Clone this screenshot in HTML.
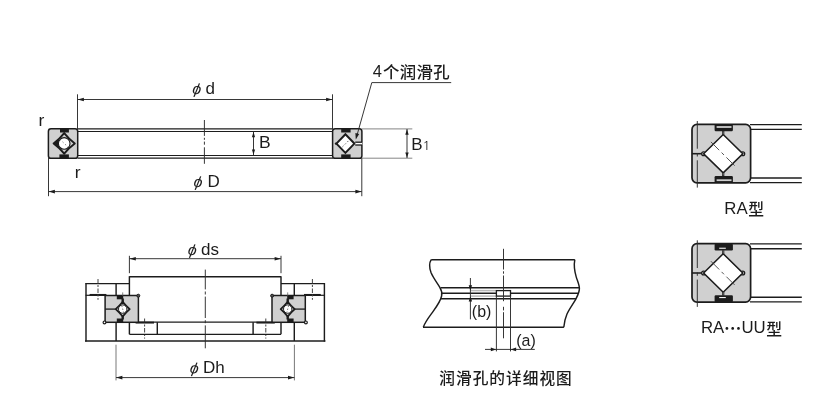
<!DOCTYPE html>
<html lang="zh-CN">
<head>
<meta charset="utf-8">
<title>RA型</title>
<style>
html,body{margin:0;padding:0;background:#fff;}
body{width:836px;height:411px;overflow:hidden;}
svg{display:block;will-change:transform;}
text{font-family:"Liberation Sans","Noto Sans CJK SC",sans-serif;fill:#1c1c1c;}
.cj{font-family:"Noto Sans CJK SC","Liberation Sans",sans-serif;}
.ip{font-family:"NanumGothic","IPAGothic","Liberation Sans",sans-serif;}
</style>
</head>
<body>
<svg width="836" height="411" viewBox="0 0 836 411">
<rect x="0" y="0" width="836" height="411" fill="#ffffff"/>
<line x1="77.50" y1="128.90" x2="333.00" y2="128.90" stroke="#1d1d1d" stroke-width="1.4" />
<line x1="77.50" y1="131.50" x2="333.00" y2="131.50" stroke="#1d1d1d" stroke-width="1.05" />
<line x1="77.50" y1="155.40" x2="333.00" y2="155.40" stroke="#1d1d1d" stroke-width="1.05" />
<line x1="77.50" y1="158.10" x2="333.00" y2="158.10" stroke="#1d1d1d" stroke-width="1.4" />
<rect x="48.40" y="128.80" width="29.30" height="29.50" rx="2.6" fill="#d0d0d0" stroke="#1c1c1c" stroke-width="1.5"/>
<rect x="332.60" y="128.80" width="29.30" height="29.50" rx="2.6" fill="#d0d0d0" stroke="#1c1c1c" stroke-width="1.5"/>
<path d="M53.60,143.40 Q59.70,138.90 64.20,133.10 Q68.70,138.90 74.80,143.40 Q68.70,147.90 64.20,153.70 Q59.70,147.90 53.60,143.40 Z" fill="#d0d0d0" stroke="#1c1c1c" stroke-width="1.9" stroke-linejoin="round"/>
<polygon points="53.60,143.40 59.60,138.80 59.60,148.00" fill="#1c1c1c" stroke="none" stroke-width="1.0" />
<circle cx="64.20" cy="143.40" r="5.8" fill="#fff" stroke="#1c1c1c" stroke-width="1.1"/>
<line x1="60.00" y1="139.40" x2="68.40" y2="147.40" stroke="#333" stroke-width="0.7" stroke-dasharray="1.2 2.4"/>
<rect x="60.00" y="128.80" width="8.90" height="3.70" rx="0" fill="#1c1c1c" stroke="none" stroke-width="1.0"/>
<rect x="59.40" y="154.40" width="9.50" height="3.90" rx="0" fill="#1c1c1c" stroke="none" stroke-width="1.0"/>
<polygon points="336.40,143.60 345.40,134.30 354.40,143.60 345.40,152.90" fill="#fff" stroke="#1c1c1c" stroke-width="2.0" stroke-linejoin="miter"/>
<circle cx="336.00" cy="143.60" r="1.2" fill="#1c1c1c" stroke="none" stroke-width="1.0"/>
<line x1="342.40" y1="146.90" x2="349.60" y2="139.70" stroke="#444" stroke-width="0.8" stroke-dasharray="1.6 1.8"/>
<rect x="341.20" y="128.80" width="9.40" height="3.70" rx="0" fill="#1c1c1c" stroke="none" stroke-width="1.0"/>
<rect x="341.20" y="154.40" width="9.40" height="3.90" rx="0" fill="#1c1c1c" stroke="none" stroke-width="1.0"/>
<rect x="355.60" y="142.20" width="6.60" height="2.80" rx="0" fill="#fff" stroke="none" stroke-width="1.0"/>
<line x1="355.20" y1="142.20" x2="362.00" y2="142.20" stroke="#1c1c1c" stroke-width="1.32" />
<line x1="355.20" y1="145.00" x2="362.00" y2="145.00" stroke="#1c1c1c" stroke-width="1.32" />
<line x1="204.40" y1="120.00" x2="204.40" y2="135.90" stroke="#2c2c2c" stroke-width="0.95" />
<line x1="204.40" y1="137.80" x2="204.40" y2="139.80" stroke="#2c2c2c" stroke-width="0.95" />
<line x1="204.40" y1="141.60" x2="204.40" y2="144.70" stroke="#2c2c2c" stroke-width="0.95" />
<line x1="204.40" y1="147.30" x2="204.40" y2="163.80" stroke="#2c2c2c" stroke-width="0.95" />
<line x1="77.50" y1="94.30" x2="77.50" y2="129.00" stroke="#2c2c2c" stroke-width="0.95" />
<line x1="332.50" y1="94.30" x2="332.50" y2="129.00" stroke="#2c2c2c" stroke-width="0.95" />
<line x1="48.50" y1="158.00" x2="48.50" y2="196.20" stroke="#2c2c2c" stroke-width="0.95" />
<line x1="361.80" y1="158.00" x2="361.80" y2="196.20" stroke="#2c2c2c" stroke-width="0.95" />
<line x1="77.50" y1="99.50" x2="332.50" y2="99.50" stroke="#2c2c2c" stroke-width="0.95" />
<polygon points="77.70,99.50 83.90,97.70 83.90,101.30" fill="#1c1c1c" stroke="none" stroke-width="0" />
<polygon points="332.30,99.50 326.10,97.70 326.10,101.30" fill="#1c1c1c" stroke="none" stroke-width="0" />
<line x1="48.50" y1="191.60" x2="361.80" y2="191.60" stroke="#2c2c2c" stroke-width="0.95" />
<polygon points="48.70,191.60 54.90,189.80 54.90,193.40" fill="#1c1c1c" stroke="none" stroke-width="0" />
<polygon points="361.60,191.60 355.40,189.80 355.40,193.40" fill="#1c1c1c" stroke="none" stroke-width="0" />
<line x1="253.50" y1="131.50" x2="253.50" y2="155.30" stroke="#2c2c2c" stroke-width="0.95" />
<polygon points="253.50,132.00 251.90,137.20 255.10,137.20" fill="#1c1c1c" stroke="none" stroke-width="0" />
<polygon points="253.50,154.80 251.90,149.60 255.10,149.60" fill="#1c1c1c" stroke="none" stroke-width="0" />
<line x1="362.00" y1="128.90" x2="412.30" y2="128.90" stroke="#666" stroke-width="0.8" />
<line x1="362.00" y1="158.20" x2="412.30" y2="158.20" stroke="#666" stroke-width="0.8" />
<line x1="407.00" y1="129.00" x2="407.00" y2="158.00" stroke="#2c2c2c" stroke-width="0.95" />
<polygon points="407.00,129.30 405.30,134.70 408.70,134.70" fill="#1c1c1c" stroke="none" stroke-width="0" />
<polygon points="407.00,157.80 405.30,152.40 408.70,152.40" fill="#1c1c1c" stroke="none" stroke-width="0" />
<line x1="371.80" y1="82.60" x2="451.20" y2="82.60" stroke="#2c2c2c" stroke-width="0.95" />
<line x1="371.80" y1="82.60" x2="356.90" y2="135.60" stroke="#2c2c2c" stroke-width="0.95" />
<polygon points="355.80,139.60 355.40,132.90 359.20,133.90" fill="#1c1c1c" stroke="none" stroke-width="1.0" />
<text font-size="17" transform="translate(38.45,125.80) scale(1.03,1)">r</text>
<text font-size="17" transform="translate(74.75,177.50) scale(1.03,1)">r</text>
<text><tspan x="191.80" y="93.25" font-size="15.5" font-style="italic" rotate="11">ϕ</tspan> <tspan x="205.55" y="93.80" font-size="17">d</tspan></text>
<text><tspan x="193.10" y="186.25" font-size="15.5" font-style="italic" rotate="11">ϕ</tspan> <tspan x="207.40" y="187.20" font-size="17">D</tspan></text>
<text font-size="17" transform="translate(258.90,147.90) scale(1.03,1)">B</text>
<text><tspan x="411.20" y="149.60" font-size="17">B</tspan><tspan x="422.55" y="149.70" font-size="13" class="ip">1</tspan></text>
<text><tspan x="372.70" y="77.30" font-size="16.5">4</tspan><tspan x="383.10" y="77.80" font-size="16.4" class="cj" font-weight="500" letter-spacing="0.3">个润滑孔</tspan></text>
<line x1="85.60" y1="283.60" x2="129.40" y2="283.60" stroke="#1c1c1c" stroke-width="1.44" />
<line x1="86.00" y1="283.00" x2="86.00" y2="341.60" stroke="#1c1c1c" stroke-width="1.44" />
<line x1="116.10" y1="283.60" x2="116.10" y2="295.30" stroke="#1c1c1c" stroke-width="1.44" />
<line x1="85.60" y1="295.30" x2="105.30" y2="295.30" stroke="#1c1c1c" stroke-width="1.2" />
<line x1="89.60" y1="294.90" x2="106.40" y2="294.90" stroke="#1c1c1c" stroke-width="1.9" />
<line x1="116.10" y1="322.20" x2="116.10" y2="341.00" stroke="#1c1c1c" stroke-width="1.44" />
<line x1="129.40" y1="276.20" x2="129.40" y2="295.30" stroke="#1c1c1c" stroke-width="1.44" />
<line x1="129.40" y1="322.20" x2="129.40" y2="334.30" stroke="#1c1c1c" stroke-width="1.44" />
<line x1="157.30" y1="322.20" x2="157.30" y2="334.30" stroke="#1c1c1c" stroke-width="1.44" />
<line x1="135.60" y1="322.60" x2="154.00" y2="322.60" stroke="#1c1c1c" stroke-width="1.9" />
<rect x="105.10" y="295.50" width="33.30" height="26.80" rx="0" fill="#d0d0d0" stroke="#1c1c1c" stroke-width="1.5"/>
<line x1="105.30" y1="309.10" x2="115.60" y2="309.10" stroke="#1c1c1c" stroke-width="1.32" />
<line x1="122.70" y1="298.50" x2="122.70" y2="302.50" stroke="#1c1c1c" stroke-width="2.4" />
<line x1="122.70" y1="315.80" x2="122.70" y2="319.50" stroke="#1c1c1c" stroke-width="2.4" />
<path d="M115.70,309.10 Q119.40,305.80 122.70,301.70 Q126.00,305.80 129.70,309.10 Q126.00,312.40 122.70,316.50 Q119.40,312.40 115.70,309.10 Z" fill="#d0d0d0" stroke="#1c1c1c" stroke-width="1.8" stroke-linejoin="round"/>
<circle cx="122.70" cy="309.10" r="4.2" fill="#fff" stroke="#1c1c1c" stroke-width="1.0"/>
<line x1="121.80" y1="305.70" x2="123.60" y2="312.50" stroke="#444" stroke-width="0.7" stroke-dasharray="1.4 1.6"/>
<rect x="116.80" y="295.60" width="6.40" height="3.70" rx="0" fill="#1c1c1c" stroke="none" stroke-width="1.0"/>
<rect x="116.80" y="318.50" width="6.40" height="3.70" rx="0" fill="#1c1c1c" stroke="none" stroke-width="1.0"/>
<circle cx="138.30" cy="295.70" r="1.5" fill="#555" stroke="#1c1c1c" stroke-width="1.0"/>
<circle cx="104.50" cy="322.40" r="1.4" fill="#fff" stroke="#1c1c1c" stroke-width="1.2"/>
<line x1="98.00" y1="279.00" x2="98.00" y2="299.80" stroke="#444" stroke-width="1.0" stroke-dasharray="4.5 1.5 2 1.5"/>
<line x1="144.60" y1="318.50" x2="144.60" y2="338.60" stroke="#444" stroke-width="1.0" stroke-dasharray="4.5 1.5 2 1.5"/>
<line x1="122.70" y1="292.40" x2="122.70" y2="296.00" stroke="#555" stroke-width="0.7" />
<line x1="129.40" y1="255.80" x2="129.40" y2="273.20" stroke="#2c2c2c" stroke-width="0.95" />
<line x1="116.00" y1="344.70" x2="116.00" y2="380.40" stroke="#555" stroke-width="0.8" />
<line x1="324.80" y1="283.60" x2="281.00" y2="283.60" stroke="#1c1c1c" stroke-width="1.44" />
<line x1="324.40" y1="283.00" x2="324.40" y2="341.60" stroke="#1c1c1c" stroke-width="1.44" />
<line x1="294.30" y1="283.60" x2="294.30" y2="295.30" stroke="#1c1c1c" stroke-width="1.44" />
<line x1="324.80" y1="295.30" x2="305.10" y2="295.30" stroke="#1c1c1c" stroke-width="1.2" />
<line x1="320.80" y1="294.90" x2="304.00" y2="294.90" stroke="#1c1c1c" stroke-width="1.9" />
<line x1="294.30" y1="322.20" x2="294.30" y2="341.00" stroke="#1c1c1c" stroke-width="1.44" />
<line x1="281.00" y1="276.20" x2="281.00" y2="295.30" stroke="#1c1c1c" stroke-width="1.44" />
<line x1="281.00" y1="322.20" x2="281.00" y2="334.30" stroke="#1c1c1c" stroke-width="1.44" />
<line x1="253.10" y1="322.20" x2="253.10" y2="334.30" stroke="#1c1c1c" stroke-width="1.44" />
<line x1="274.80" y1="322.60" x2="256.40" y2="322.60" stroke="#1c1c1c" stroke-width="1.9" />
<rect x="272.00" y="295.50" width="33.30" height="26.80" rx="0" fill="#d0d0d0" stroke="#1c1c1c" stroke-width="1.5"/>
<line x1="305.10" y1="309.10" x2="294.80" y2="309.10" stroke="#1c1c1c" stroke-width="1.32" />
<line x1="287.70" y1="298.50" x2="287.70" y2="302.50" stroke="#1c1c1c" stroke-width="2.4" />
<line x1="287.70" y1="315.80" x2="287.70" y2="319.50" stroke="#1c1c1c" stroke-width="2.4" />
<path d="M280.70,309.10 Q284.40,305.80 287.70,301.70 Q291.00,305.80 294.70,309.10 Q291.00,312.40 287.70,316.50 Q284.40,312.40 280.70,309.10 Z" fill="#d0d0d0" stroke="#1c1c1c" stroke-width="1.8" stroke-linejoin="round"/>
<circle cx="287.70" cy="309.10" r="4.2" fill="#fff" stroke="#1c1c1c" stroke-width="1.0"/>
<line x1="288.60" y1="305.70" x2="286.80" y2="312.50" stroke="#444" stroke-width="0.7" stroke-dasharray="1.4 1.6"/>
<rect x="287.20" y="295.60" width="6.40" height="3.70" rx="0" fill="#1c1c1c" stroke="none" stroke-width="1.0"/>
<rect x="287.20" y="318.50" width="6.40" height="3.70" rx="0" fill="#1c1c1c" stroke="none" stroke-width="1.0"/>
<circle cx="272.10" cy="295.70" r="1.5" fill="#555" stroke="#1c1c1c" stroke-width="1.0"/>
<circle cx="305.90" cy="322.40" r="1.4" fill="#fff" stroke="#1c1c1c" stroke-width="1.2"/>
<line x1="312.40" y1="279.00" x2="312.40" y2="299.80" stroke="#444" stroke-width="1.0" stroke-dasharray="4.5 1.5 2 1.5"/>
<line x1="265.80" y1="318.50" x2="265.80" y2="338.60" stroke="#444" stroke-width="1.0" stroke-dasharray="4.5 1.5 2 1.5"/>
<line x1="287.70" y1="292.40" x2="287.70" y2="296.00" stroke="#555" stroke-width="0.7" />
<line x1="281.00" y1="255.80" x2="281.00" y2="273.20" stroke="#2c2c2c" stroke-width="0.95" />
<line x1="294.40" y1="344.70" x2="294.40" y2="380.40" stroke="#555" stroke-width="0.8" />
<line x1="129.40" y1="276.80" x2="281.00" y2="276.80" stroke="#1c1c1c" stroke-width="1.56" />
<line x1="138.10" y1="322.20" x2="272.30" y2="322.20" stroke="#1c1c1c" stroke-width="1.32" />
<line x1="129.40" y1="334.30" x2="281.00" y2="334.30" stroke="#1c1c1c" stroke-width="1.32" />
<line x1="85.00" y1="341.00" x2="325.40" y2="341.00" stroke="#1c1c1c" stroke-width="1.44" />
<line x1="205.30" y1="269.60" x2="205.30" y2="289.40" stroke="#2c2c2c" stroke-width="0.95" />
<line x1="205.30" y1="291.50" x2="205.30" y2="294.50" stroke="#2c2c2c" stroke-width="0.95" />
<line x1="205.30" y1="296.60" x2="205.30" y2="318.00" stroke="#2c2c2c" stroke-width="0.95" />
<line x1="205.30" y1="320.20" x2="205.30" y2="323.20" stroke="#2c2c2c" stroke-width="0.95" />
<line x1="205.30" y1="325.40" x2="205.30" y2="348.30" stroke="#2c2c2c" stroke-width="0.95" />
<line x1="129.40" y1="258.70" x2="281.00" y2="258.70" stroke="#2c2c2c" stroke-width="0.95" />
<polygon points="129.60,258.70 135.80,256.90 135.80,260.50" fill="#1c1c1c" stroke="none" stroke-width="0" />
<polygon points="280.80,258.70 274.60,256.90 274.60,260.50" fill="#1c1c1c" stroke="none" stroke-width="0" />
<line x1="116.00" y1="377.60" x2="294.40" y2="377.60" stroke="#2c2c2c" stroke-width="0.95" />
<polygon points="116.20,377.60 122.40,375.80 122.40,379.40" fill="#1c1c1c" stroke="none" stroke-width="0" />
<polygon points="294.20,377.60 288.00,375.80 288.00,379.40" fill="#1c1c1c" stroke="none" stroke-width="0" />
<text><tspan x="187.20" y="254.25" font-size="15.5" font-style="italic" rotate="11">ϕ</tspan> <tspan x="201.05" y="255.00" font-size="17">ds</tspan></text>
<text><tspan x="189.20" y="372.45" font-size="15.5" font-style="italic" rotate="11">ϕ</tspan> <tspan x="203.10" y="373.00" font-size="17">Dh</tspan></text>
<path d="M431.2,259.7 L574.8,259.7" fill="none" stroke="#1c1c1c" stroke-width="1.45"/>
<path d="M423,327.2 L563.9,327.2" fill="none" stroke="#1c1c1c" stroke-width="1.45"/>
<path d="M431.2,259.7 C428.8,263.5 429.3,268 431.1,272.8 C433,277.5 437.5,283.5 439.8,287.3 C441.5,290 442.3,293 441.6,296 C440.5,301.5 436,307.5 432.6,312.1 C429,317 425,322 423.3,327.2" fill="none" stroke="#1c1c1c" stroke-width="1.45"/>
<path d="M574.8,259.7 C573.8,265 574.3,270.5 576.2,276.9 C577.8,282 579.6,285.5 579.4,289 C579.2,293 577.5,296 576,298.8 C573,304 569,309.5 566.9,314.2 C565,318.5 564.2,323 563.8,327.2" fill="none" stroke="#1c1c1c" stroke-width="1.45"/>
<line x1="440.60" y1="287.80" x2="579.20" y2="287.80" stroke="#1c1c1c" stroke-width="1.44" />
<line x1="441.60" y1="293.20" x2="496.30" y2="293.20" stroke="#1c1c1c" stroke-width="1.44" />
<line x1="510.50" y1="293.20" x2="578.40" y2="293.20" stroke="#1c1c1c" stroke-width="1.44" />
<line x1="441.00" y1="298.80" x2="576.00" y2="298.80" stroke="#1c1c1c" stroke-width="1.44" />
<line x1="470.40" y1="290.60" x2="496.30" y2="290.60" stroke="#b8b8b8" stroke-width="1.5" />
<line x1="470.40" y1="296.10" x2="496.30" y2="296.10" stroke="#b8b8b8" stroke-width="1.5" />
<rect x="496.40" y="290.60" width="14.10" height="5.50" rx="0" fill="#fff" stroke="#1c1c1c" stroke-width="1.3"/>
<line x1="496.40" y1="296.00" x2="496.40" y2="351.40" stroke="#2c2c2c" stroke-width="0.95" />
<line x1="510.50" y1="296.00" x2="510.50" y2="351.40" stroke="#2c2c2c" stroke-width="0.95" />
<line x1="503.50" y1="248.80" x2="503.50" y2="269.50" stroke="#2c2c2c" stroke-width="0.95" />
<line x1="503.50" y1="271.30" x2="503.50" y2="273.70" stroke="#2c2c2c" stroke-width="0.95" />
<line x1="503.50" y1="275.50" x2="503.50" y2="301.20" stroke="#2c2c2c" stroke-width="0.95" />
<line x1="503.50" y1="306.80" x2="503.50" y2="310.40" stroke="#2c2c2c" stroke-width="0.95" />
<line x1="503.50" y1="312.20" x2="503.50" y2="338.30" stroke="#2c2c2c" stroke-width="0.95" />
<line x1="485.00" y1="349.40" x2="534.80" y2="349.40" stroke="#2c2c2c" stroke-width="0.95" />
<polygon points="496.20,349.40 490.80,347.60 490.80,351.20" fill="#1c1c1c" stroke="none" stroke-width="0" />
<polygon points="510.70,349.40 516.10,347.60 516.10,351.20" fill="#1c1c1c" stroke="none" stroke-width="0" />
<line x1="470.40" y1="278.00" x2="470.40" y2="319.30" stroke="#2c2c2c" stroke-width="0.95" />
<polygon points="470.40,290.40 468.70,285.20 472.10,285.20" fill="#1c1c1c" stroke="none" stroke-width="0" />
<polygon points="470.40,296.30 468.70,301.50 472.10,301.50" fill="#1c1c1c" stroke="none" stroke-width="0" />
<text font-size="16.5" transform="translate(471.80,316.80) scale(0.97,1)">(b)</text>
<text font-size="16.5" transform="translate(516.20,346.30) scale(0.97,1)">(a)</text>
<text><tspan x="439.30" y="384.30" font-size="15.7" class="cj" font-weight="500" letter-spacing="1.0">润滑孔的详细视图</tspan></text>
<line x1="750.00" y1="124.60" x2="801.80" y2="124.60" stroke="#1c1c1c" stroke-width="1.44" />
<line x1="750.00" y1="129.40" x2="801.80" y2="129.40" stroke="#1c1c1c" stroke-width="1.44" />
<line x1="750.00" y1="178.00" x2="801.80" y2="178.00" stroke="#1c1c1c" stroke-width="1.44" />
<line x1="750.00" y1="182.60" x2="801.80" y2="182.60" stroke="#1c1c1c" stroke-width="1.44" />
<rect x="692.00" y="124.40" width="58.60" height="58.40" rx="5" fill="#d0d0d0" stroke="#1c1c1c" stroke-width="1.7"/>
<line x1="691.90" y1="153.70" x2="702.60" y2="153.70" stroke="#1c1c1c" stroke-width="1.56" />
<circle cx="703.60" cy="153.70" r="1.9" fill="#fff" stroke="#1c1c1c" stroke-width="1.3"/>
<circle cx="742.80" cy="153.70" r="1.9" fill="#fff" stroke="#1c1c1c" stroke-width="1.3"/>
<polygon points="703.60,153.70 723.20,134.50 742.80,153.70 723.20,172.90" fill="#fff" stroke="#1c1c1c" stroke-width="1.6" />
<polygon points="705.60,153.70 723.20,136.40 740.80,153.70 723.20,171.00" fill="#fff" stroke="none" stroke-width="1.0" />
<line x1="710.90" y1="141.90" x2="735.60" y2="166.60" stroke="#444" stroke-width="0.9" stroke-dasharray="11.7 3.4 3.4 3.4"/>
<rect x="714.60" y="124.40" width="18.30" height="6.80" rx="1.2" fill="#1c1c1c" stroke="none" stroke-width="1.0"/>
<rect x="716.60" y="126.10" width="14.90" height="1.80" rx="0" fill="#cfcfcf" stroke="none" stroke-width="1.0"/>
<rect x="714.60" y="176.00" width="18.30" height="6.80" rx="1.2" fill="#1c1c1c" stroke="none" stroke-width="1.0"/>
<rect x="716.60" y="179.30" width="14.90" height="1.80" rx="0" fill="#cfcfcf" stroke="none" stroke-width="1.0"/>
<line x1="723.20" y1="131.00" x2="723.20" y2="134.80" stroke="#1c1c1c" stroke-width="2.2" />
<line x1="723.20" y1="131.40" x2="723.20" y2="134.20" stroke="#aaa" stroke-width="0.6" />
<line x1="723.20" y1="172.60" x2="723.20" y2="176.20" stroke="#1c1c1c" stroke-width="2.2" />
<line x1="723.20" y1="173.00" x2="723.20" y2="175.60" stroke="#aaa" stroke-width="0.6" />
<line x1="697.30" y1="121.00" x2="697.30" y2="148.70" stroke="#2c2c2c" stroke-width="0.95" />
<line x1="697.30" y1="153.10" x2="697.30" y2="156.50" stroke="#2c2c2c" stroke-width="0.95" />
<line x1="697.30" y1="160.30" x2="697.30" y2="187.60" stroke="#2c2c2c" stroke-width="0.95" />
<line x1="750.00" y1="243.90" x2="801.80" y2="243.90" stroke="#1c1c1c" stroke-width="1.44" />
<line x1="750.00" y1="248.70" x2="801.80" y2="248.70" stroke="#1c1c1c" stroke-width="1.44" />
<line x1="750.00" y1="297.30" x2="801.80" y2="297.30" stroke="#1c1c1c" stroke-width="1.44" />
<line x1="750.00" y1="301.90" x2="801.80" y2="301.90" stroke="#1c1c1c" stroke-width="1.44" />
<rect x="692.00" y="243.70" width="58.60" height="58.40" rx="5" fill="#d0d0d0" stroke="#1c1c1c" stroke-width="1.7"/>
<line x1="691.90" y1="273.00" x2="702.60" y2="273.00" stroke="#1c1c1c" stroke-width="1.56" />
<circle cx="703.60" cy="273.00" r="1.9" fill="#fff" stroke="#1c1c1c" stroke-width="1.3"/>
<circle cx="742.80" cy="273.00" r="1.9" fill="#fff" stroke="#1c1c1c" stroke-width="1.3"/>
<polygon points="703.60,273.00 723.20,253.80 742.80,273.00 723.20,292.20" fill="#fff" stroke="#1c1c1c" stroke-width="1.6" />
<polygon points="705.60,273.00 723.20,255.70 740.80,273.00 723.20,290.30" fill="#fff" stroke="none" stroke-width="1.0" />
<line x1="710.90" y1="261.20" x2="735.60" y2="285.90" stroke="#444" stroke-width="0.9" stroke-dasharray="11.7 3.4 3.4 3.4"/>
<rect x="714.60" y="243.70" width="18.30" height="6.80" rx="1.2" fill="#1c1c1c" stroke="none" stroke-width="1.0"/>
<rect x="719.20" y="247.70" width="6.60" height="1.10" rx="0" fill="#f4f4f4" stroke="none" stroke-width="1.0"/>
<rect x="714.60" y="295.30" width="18.30" height="6.80" rx="1.2" fill="#1c1c1c" stroke="none" stroke-width="1.0"/>
<rect x="719.20" y="297.00" width="6.60" height="1.10" rx="0" fill="#f4f4f4" stroke="none" stroke-width="1.0"/>
<line x1="723.20" y1="250.30" x2="723.20" y2="254.10" stroke="#1c1c1c" stroke-width="2.2" />
<line x1="723.20" y1="250.70" x2="723.20" y2="253.50" stroke="#aaa" stroke-width="0.6" />
<line x1="723.20" y1="291.90" x2="723.20" y2="295.50" stroke="#1c1c1c" stroke-width="2.2" />
<line x1="723.20" y1="292.30" x2="723.20" y2="294.90" stroke="#aaa" stroke-width="0.6" />
<line x1="697.30" y1="240.30" x2="697.30" y2="268.00" stroke="#2c2c2c" stroke-width="0.95" />
<line x1="697.30" y1="272.40" x2="697.30" y2="275.80" stroke="#2c2c2c" stroke-width="0.95" />
<line x1="697.30" y1="279.60" x2="697.30" y2="306.90" stroke="#2c2c2c" stroke-width="0.95" />
<text><tspan x="724.30" y="214.20" font-size="16.8">RA</tspan><tspan x="748.25" y="215.30" font-size="15.8" class="cj" font-weight="500">型</tspan></text>
<text><tspan x="701.00" y="333.40" font-size="16.8">RA</tspan><tspan x="724.10" y="335.45" font-size="17.4" class="cj" font-weight="700">…</tspan><tspan x="741.45" y="333.40" font-size="16.8">UU</tspan><tspan x="766.15" y="334.60" font-size="15.8" class="cj" font-weight="500">型</tspan></text>
</svg>
</body>
</html>
